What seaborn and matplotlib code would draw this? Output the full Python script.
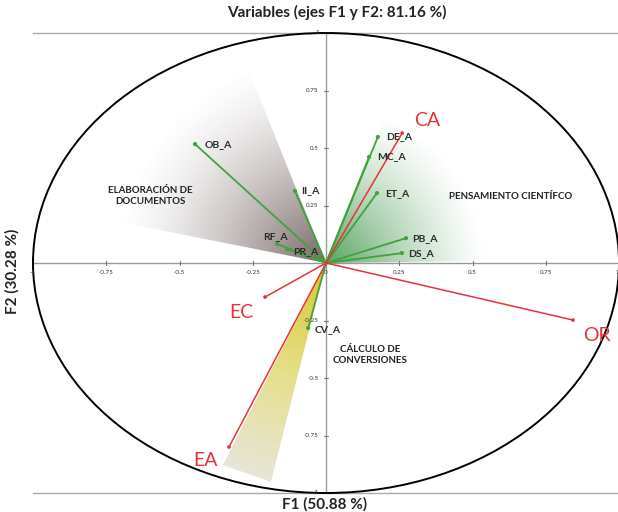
import numpy as np
import pandas as pd
import matplotlib
matplotlib.use("Agg")
import matplotlib.pyplot as plt
from matplotlib.patches import Ellipse, Polygon
from matplotlib.colors import LinearSegmentedColormap
import seaborn as sns

# Active variables (loadings on F1 / F2)
var_names = ["OB_A", "II_A", "RF_A", "PR_A", "DE_A", "MC_A", "ET_A", "PB_A", "DS_A", "CV_A"]
var_f1 = [-0.447, -0.106, -0.167, -0.133, 0.177, 0.147, 0.174, 0.273, 0.259, -0.061]
var_f2 = [0.517, 0.313, 0.083, 0.061, 0.548, 0.461, 0.304, 0.108, 0.043, -0.283]

# Supplementary variables
sup_names = ["CA", "OR", "EC", "EA"]
sup_f1 = [0.260, 0.843, -0.208, -0.331]
sup_f2 = [0.565, -0.248, -0.148, -0.800]

tick_values = [-1, -0.75, -0.5, -0.25, 0, 0.25, 0.5, 0.75, 1]
tick_labels = ["-1", "-0.75", "-0.5", "-0.25", "0", "0.25", "0.5", "0.75", "1"]

title = "Variables (ejes F1 y F2: 81.16 %)"
xlabel = "F1 (50.88 %)"
ylabel = "F2 (30.28 %)"

# label offsets in pixels
var_offsets = {"OB_A": (10, 0), "II_A": (6, 0), "RF_A": (-14, 7), "PR_A": (6, -3),
               "DE_A": (8, 0), "MC_A": (8, 0), "ET_A": (8, 0), "PB_A": (6, 0),
               "DS_A": (6, 0), "CV_A": (6, -1)}
sup_offsets = {"CA": (12, 13), "OR": (10, -15), "EC": (-36, -15), "EA": (-36, -13)}

GREEN = "#3fa33a"
RED = "#e8323a"

sns.set_theme(style="white")
plt.rcParams["font.family"] = ["Lato", "DejaVu Sans"]

fig = plt.figure(figsize=(6.18, 5.12), dpi=100)
ax = fig.add_axes([33 / 618, 19 / 512, 586 / 618, 460 / 512])

xs = np.linspace(-1, 1, 500)
X, Y = np.meshgrid(xs, xs)
R = np.hypot(X, Y * 230 / 293)


def wedge(ax, pts, rgb, alpha_max, radius, power):
    img = np.zeros((500, 500, 4))
    img[..., :3] = rgb
    img[..., 3] = alpha_max * np.clip(1 - R / radius, 0, 1) ** power
    im = ax.imshow(img, extent=(-1, 1, -1, 1), origin="lower", aspect="auto", zorder=1)
    patch = Polygon(pts, closed=True, facecolor="none", edgecolor="none", transform=ax.transData)
    ax.add_patch(patch)
    im.set_clip_path(patch)


# shaded groups
wedge(ax, [(0, 0), (-0.29, 0.92), (-0.7, 0.8), (-0.95, 0.24)], (0.38, 0.30, 0.30), 0.85, 0.72, 1.4)
wedge(ax, [(0, 0), (0.2, 0.62), (0.5, 0.5), (0.6, 0.01)], (0.20, 0.55, 0.24), 0.8, 0.55, 1.3)

# yellow wedge: colour gradient along the radius
ycmap = LinearSegmentedColormap.from_list("yl", ["#d8c630", "#e6df8a", "#e6e6df"])
im = ax.imshow(R, extent=(-1, 1, -1, 1), origin="lower", aspect="auto", cmap=ycmap,
               vmin=0, vmax=0.8, zorder=1)
ypatch = Polygon([(0, 0), (-0.352, -0.878), (-0.188, -0.952)], closed=True,
                 facecolor="none", edgecolor="none", transform=ax.transData)
ax.add_patch(ypatch)
im.set_clip_path(ypatch)

# correlation circle and axes
ax.add_patch(Ellipse((0, 0), 2, 2, fill=False, edgecolor="black", lw=1.4, zorder=3, clip_on=False))
ax.axhline(0, color="#999999", lw=1, zorder=2)
ax.axvline(0, color="#999999", lw=1, zorder=2)
for v, lab in zip(tick_values, tick_labels):
    ax.plot([v, v], [-0.008, 0.008], color="#777777", lw=0.8, zorder=2, clip_on=False)
    ax.text(v, -0.03, lab, fontsize=4.5, ha="right" if v == 1 else "center", va="top", color="#333333")
    ax.plot([-0.006, 0.006], [v, v], color="#777777", lw=0.8, zorder=2, clip_on=False)
    if v != 0:
        ax.text(-0.025, v, lab, fontsize=4.5, ha="right", va="center", color="#333333")

# vectors
rows = []
for n, x, y in zip(var_names, var_f1, var_f2):
    rows += [(n, 0.0, 0.0), (n, x, y)]
vdf = pd.DataFrame(rows, columns=["name", "F1", "F2"])
sns.lineplot(data=vdf, x="F1", y="F2", units="name", estimator=None, sort=False,
             color=GREEN, lw=1.3, ax=ax, zorder=4)
sns.scatterplot(x=var_f1, y=var_f2, color=GREEN, s=9, edgecolor="none", ax=ax, zorder=5)

rows = []
for n, x, y in zip(sup_names, sup_f1, sup_f2):
    rows += [(n, 0.0, 0.0), (n, x, y)]
sdf = pd.DataFrame(rows, columns=["name", "F1", "F2"])
sns.lineplot(data=sdf, x="F1", y="F2", units="name", estimator=None, sort=False,
             color=RED, lw=1.1, ax=ax, zorder=4)
sns.scatterplot(x=sup_f1, y=sup_f2, color=RED, s=7, edgecolor="none", ax=ax, zorder=5)

for n, x, y in zip(var_names, var_f1, var_f2):
    ax.annotate(n, (x, y), xytext=var_offsets[n], textcoords="offset pixels",
                fontsize=7.5, fontweight="bold", color="#2a2a2a", ha="left", va="center", zorder=6)
for n, x, y in zip(sup_names, sup_f1, sup_f2):
    ax.annotate(n, (x, y), xytext=sup_offsets[n], textcoords="offset pixels",
                fontsize=14, color=RED, ha="left", va="center", zorder=6)

# group names
ax.text(-0.6, 0.29, "ELABORACIÓN DE\nDOCUMENTOS", fontsize=7, fontweight="bold",
        ha="center", va="center", color="#222222", linespacing=1.3)
ax.text(0.63, 0.29, "PENSAMIENTO CIENTÍFCO", fontsize=7, fontweight="bold",
        ha="center", va="center", color="#222222")
ax.text(0.15, -0.4, "CÁLCULO DE\nCONVERSIONES", fontsize=7, fontweight="bold",
        ha="center", va="center", color="#222222", linespacing=1.3)

ax.set_xlim(-1, 1)
ax.set_ylim(-1, 1)
ax.set_xticks([])
ax.set_yticks([])
ax.set_xlabel("")
ax.set_ylabel("")
for side in ["left", "right"]:
    ax.spines[side].set_visible(False)
for side in ["top", "bottom"]:
    ax.spines[side].set_color("#aaaaaa")
    ax.spines[side].set_linewidth(1)

fig.text(0.545, 0.975, title, fontsize=11, fontweight="bold", ha="center", va="center", color="#222222")
fig.text(0.525, 0.015, xlabel, fontsize=11, fontweight="bold", ha="center", va="center", color="#222222")
fig.text(0.02, 0.47, ylabel, fontsize=11, fontweight="bold", ha="center", va="center",
         rotation=90, color="#222222")

fig.savefig("out.png", dpi=100)
